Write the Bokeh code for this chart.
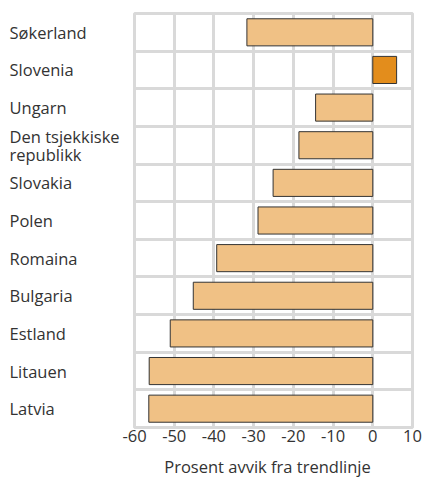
from bokeh.plotting import figure
from bokeh.models import FactorRange, FixedTicker, ColumnDataSource
from bokeh.layouts import row, column
from bokeh.embed import file_html
from bokeh.resources import INLINE
from bokeh.core.properties import value

countries = ["Søkerland", "Slovenia", "Ungarn", "Den tsjekkiske\nrepublikk", "Slovakia",
             "Polen", "Romaina", "Bulgaria", "Estland", "Litauen", "Latvia"]
deviation = [-31.7, 6.0, -14.4, -18.6, -25.1, -28.9, -39.3, -45.2, -51.0, -56.3, -56.4]
colors = ["#F0C185", "#E38D1C", "#F0C185", "#F0C185", "#F0C185", "#F0C185",
          "#F0C185", "#F0C185", "#F0C185", "#F0C185", "#F0C185"]
x_ticks = [-60, -50, -40, -30, -20, -10, 0, 10]
x_title = "Prosent avvik fra trendlinje"

FONT = "Open Sans"
TXT = "#333333"
GRID = "#D9D9D9"

yr = FactorRange(factors=list(reversed(countries)))
src = ColumnDataSource(dict(y=countries, x=deviation, c=colors, z=[0] * len(countries)))

H = 452
TOP = 13
BOT = 25
LW = 122
PAD_L = 12
PW = 278 + PAD_L + 11
TH = 26

# label column
lab = figure(width=LW, height=H, y_range=yr, x_range=(0, LW),
             output_backend="svg", toolbar_location=None,
             min_border_left=0, min_border_right=0, min_border_top=TOP, min_border_bottom=BOT)
lab.axis.visible = False
lab.grid.visible = False
lab.outline_line_color = None
lab.text(x=9, y="y", text="y", source=src, text_font=value(FONT), text_font_size="16.5px",
         text_color=TXT, text_align="left", text_baseline="middle", text_line_height=0.8)

p = figure(width=PW, height=H, y_range=yr, x_range=(-60, 10),
           output_backend="svg", toolbar_location=None,
           min_border_left=PAD_L, min_border_right=11, min_border_top=TOP, min_border_bottom=BOT)
p.hbar(y="y", left="z", right="x", height=0.72, source=src, fill_color="c",
       line_color="#333333", line_width=1)

p.yaxis.visible = False
p.xaxis.ticker = FixedTicker(ticks=x_ticks)
p.xaxis.major_label_overrides = {t: str(t) for t in x_ticks}
p.xaxis.axis_line_color = None
p.xaxis.major_tick_line_color = None
p.xaxis.major_tick_out = 0
p.xaxis.major_tick_in = 0
p.xaxis.minor_tick_line_color = None
p.xaxis.major_label_text_font = FONT
p.xaxis.major_label_text_font_size = "16.5px"
p.xaxis.major_label_text_color = TXT
p.xaxis.major_label_standoff = 2

p.xgrid.ticker = FixedTicker(ticks=x_ticks)
p.xgrid.grid_line_color = GRID
p.xgrid.grid_line_width = 3
p.ygrid.ticker = FixedTicker(ticks=list(range(len(countries) + 1)))
p.ygrid.grid_line_color = GRID
p.ygrid.grid_line_width = 3
p.outline_line_color = GRID
p.outline_line_width = 3

# axis title strip
tf = figure(width=LW + PW, height=TH, x_range=(0, LW + PW), y_range=(0, TH),
            output_backend="svg", toolbar_location=None,
            min_border_left=0, min_border_right=0, min_border_top=0, min_border_bottom=0)
tf.axis.visible = False
tf.grid.visible = False
tf.outline_line_color = None
tf.text(x=[267], y=[12], text=[x_title], text_font=value(FONT), text_font_size="16.5px",
        text_color=TXT, text_align="center", text_baseline="middle")

layout = column(row(lab, p), tf)
open("out.html", "w").write(file_html(layout, INLINE))
